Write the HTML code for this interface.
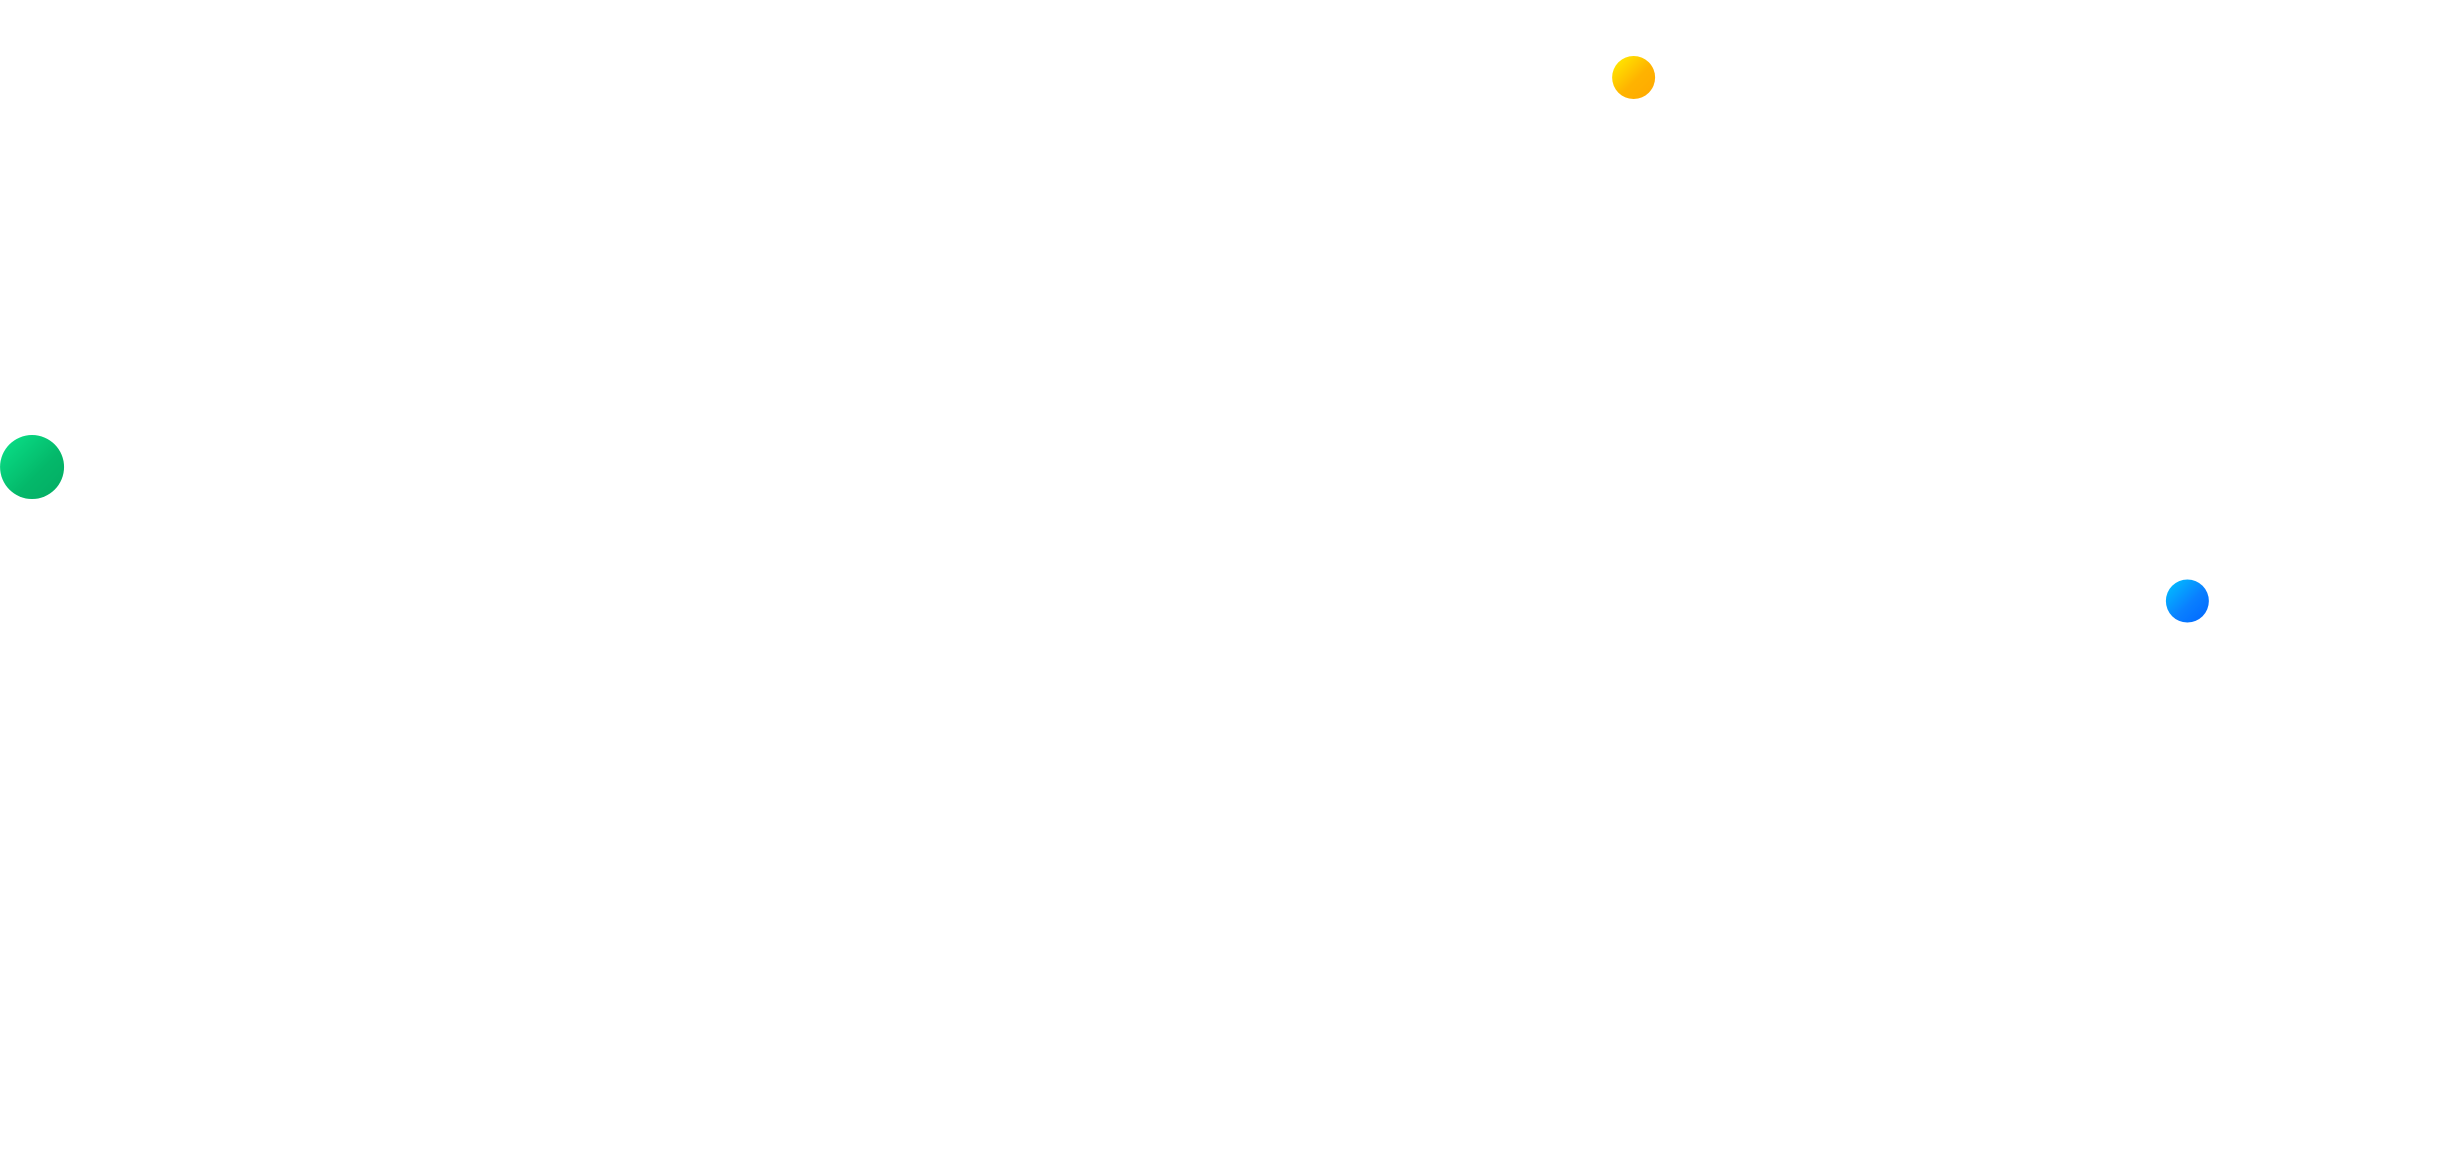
<!DOCTYPE html>
<html><head><meta charset="utf-8"><style>
html,body{margin:0;padding:0;background:#fff;width:2447px;height:1160px;overflow:hidden}
svg{display:block}
</style></head><body>
<svg id="chart" width="2447" height="1160" viewBox="0 0 2447 1160" xmlns="http://www.w3.org/2000/svg">
<defs>
<linearGradient id="gYellow" x1="0" y1="0" x2="1" y2="1"><stop offset="0" stop-color="#fff200"/><stop offset="0.55" stop-color="#ffb300"/><stop offset="1" stop-color="#ffa800"/></linearGradient>
<linearGradient id="gGreen" x1="0" y1="0" x2="1" y2="1"><stop offset="0" stop-color="#0ae38a"/><stop offset="0.6" stop-color="#04b86a"/><stop offset="1" stop-color="#03ac63"/></linearGradient>
<linearGradient id="gBlue" x1="0" y1="0" x2="1" y2="1"><stop offset="0" stop-color="#00c6ff"/><stop offset="0.55" stop-color="#0a80ff"/><stop offset="1" stop-color="#0066ff"/></linearGradient>
</defs>
<g id="points"></g>
</svg>
<script>
const categories = ["yellow", "green", "blue"];
const xValues = [66.76, 1.31, 89.39];
const yValues = [93.32, 59.74, 48.19];
const sizes = [21.5, 32, 21.5];
const fills = ["url(#gYellow)", "url(#gGreen)", "url(#gBlue)"];

const W = 2447, H = 1160;
function xScale(v){ return v / 100 * W; }
function yScale(v){ return H - v / 100 * H; }

const g = document.getElementById('points');
const ns = "http://www.w3.org/2000/svg";
for (let i = 0; i < categories.length; i++) {
  const c = document.createElementNS(ns, 'circle');
  c.setAttribute('cx', xScale(xValues[i]));
  c.setAttribute('cy', yScale(yValues[i]));
  c.setAttribute('r', sizes[i]);
  c.setAttribute('fill', fills[i]);
  
  
  g.appendChild(c);
}
</script>
</body></html>
